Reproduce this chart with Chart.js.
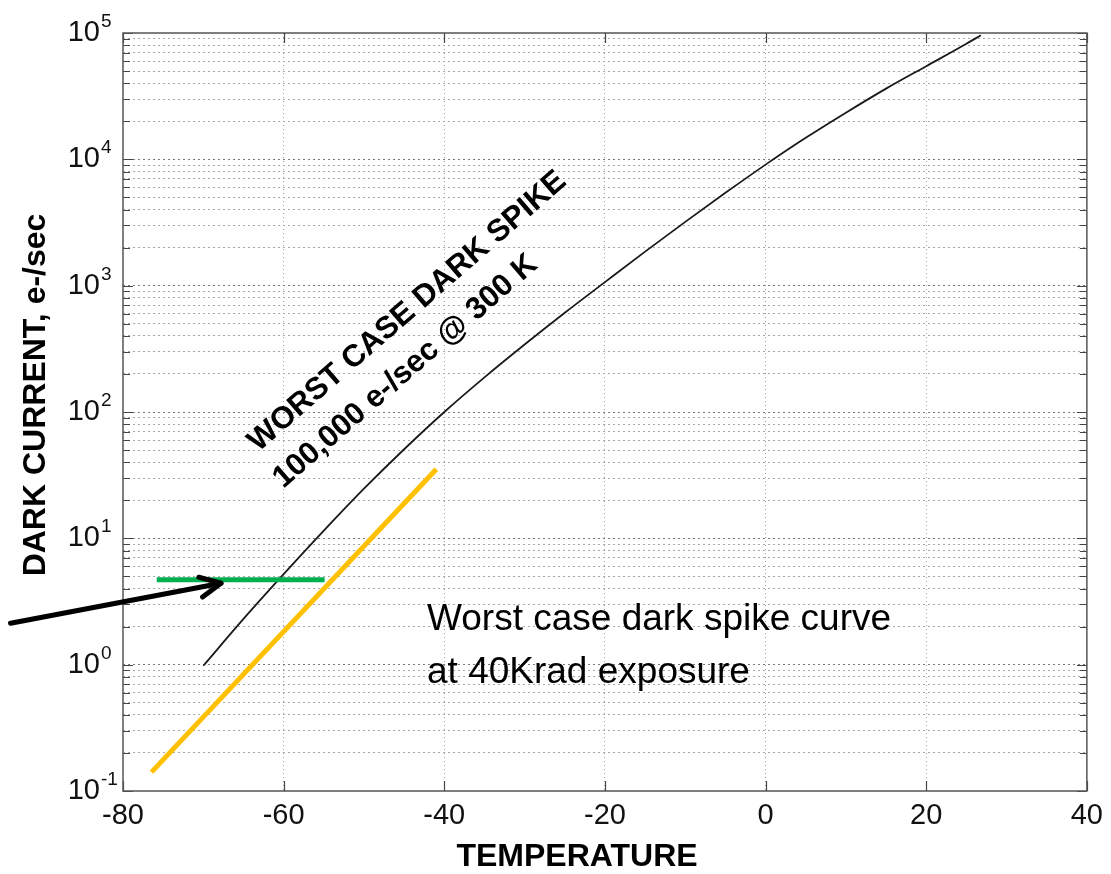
<!DOCTYPE html>
<html><head><meta charset="utf-8">
<script src="https://cdn.jsdelivr.net/npm/chart.js@4.4.1/dist/chart.umd.min.js"></script>
<style>html,body{margin:0;padding:0;background:#fff;} #wrap{width:1111px;height:874px;}</style>
</head><body><div id="wrap"><canvas id="c" width="1111" height="874"></canvas></div>
<script>
// ---- data ----
const tempC       = [-70, -65, -60, -55, -50, -45, -40, -35, -30, -25, -20, -15, -10, -5, 0, 5, 10, 15, 20, 25, 26.8];
const darkCurrent = [0.98, 2.3, 5.2, 11.5, 24.7, 50.7, 100, 188, 342, 610, 1067, 1860, 3200, 5430, 9080, 14800, 23400, 36300, 54600, 82200, 95900];
const radTemp     = [-76.45, -41.0];
const radCurrent  = [0.141, 35.2];
const markTemp    = [-75.8, -54.9];
const markCurrent = [4.7, 4.7];
const arrowTemp    = [-94.0, -67.8];
const arrowCurrent = [2.13, 4.41];
const xTicks      = [-80, -60, -40, -20, 0, 20, 40];
const xTickLabels = ['-80', '-60', '-40', '-20', '0', '20', '40'];
const yDecades    = [0.1, 1, 10, 100, 1000, 10000, 100000];
const yTickBase   = '10';
const yTickExp    = ['-1', '0', '1', '2', '3', '4', '5'];
const xTitle = 'TEMPERATURE';
const yTitle = 'DARK CURRENT, e-/sec';
const noteLines  = ['Worst case dark spike curve', 'at 40Krad exposure'];
const curveLabel = ['WORST CASE DARK SPIKE', '100,000 e-/sec @ 300 K'];

const FONT = '"Liberation Sans", Arial, sans-serif';

// y tick values: 1..9 x 10^k
const yTickValues = [];
for (let k = 0; k < yDecades.length - 1; k++) {
  for (let m = 1; m <= 9; m++) yTickValues.push(+(m * yDecades[k]).toPrecision(3));
}
yTickValues.push(yDecades[yDecades.length - 1]);
const isDecade = v => yDecades.some(d => Math.abs(v - d) / d < 1e-6);

const toPts = (xs, ys) => xs.map((x, i) => ({x: x, y: ys[i]}));

const decorPlugin = {
  id: 'decor',
  afterDraw(chart) {
    const ctx = chart.ctx, a = chart.chartArea;
    const xs = chart.scales.x, ys = chart.scales.y;
    ctx.save();
    // inward ticks
    ctx.strokeStyle = '#444'; ctx.lineWidth = 1.2;
    ctx.beginPath();
    yTickValues.forEach(v => {
      const p = Math.round(ys.getPixelForValue(v)) + 0.5;
      const L = isDecade(v) ? 10 : 7;
      ctx.moveTo(a.left, p); ctx.lineTo(a.left + L, p);
      ctx.moveTo(a.right, p); ctx.lineTo(a.right - L, p);
    });
    xTicks.forEach(v => {
      const p = Math.round(xs.getPixelForValue(v)) + 0.5;
      ctx.moveTo(p, a.bottom); ctx.lineTo(p, a.bottom - 10);
      ctx.moveTo(p, a.top); ctx.lineTo(p, a.top + 10);
    });
    ctx.stroke();
    // frame
    ctx.strokeStyle = '#555'; ctx.lineWidth = 1.5;
    ctx.strokeRect(a.left, a.top, a.right - a.left, a.bottom - a.top);

    // y tick labels with superscript exponents, placed by the y scale
    ctx.fillStyle = '#111';
    yDecades.forEach((d, i) => {
      const p = ys.getPixelForValue(d);
      ctx.font = '29px ' + FONT; ctx.textAlign = 'right'; ctx.textBaseline = 'middle';
      ctx.fillText(yTickBase, 100, p);
      ctx.font = '19px ' + FONT; ctx.textAlign = 'left'; ctx.textBaseline = 'alphabetic';
      ctx.fillText(yTickExp[i], 101, p - 6);
    });

    // arrow
    const tx = xs.getPixelForValue(arrowTemp[0]), ty = ys.getPixelForValue(arrowCurrent[0]);
    const hx = xs.getPixelForValue(arrowTemp[1]), hy = ys.getPixelForValue(arrowCurrent[1]);
    const ang = Math.atan2(hy - ty, hx - tx);
    ctx.strokeStyle = '#000'; ctx.lineWidth = 5; ctx.lineCap = 'round'; ctx.lineJoin = 'round';
    ctx.beginPath(); ctx.moveTo(tx, ty); ctx.lineTo(hx, hy); ctx.stroke();
    const wl = 23, wa = 26 * Math.PI / 180;
    ctx.beginPath();
    ctx.moveTo(hx - wl * Math.cos(ang - wa), hy - wl * Math.sin(ang - wa));
    ctx.lineTo(hx, hy);
    ctx.lineTo(hx - wl * Math.cos(ang + wa), hy - wl * Math.sin(ang + wa));
    ctx.stroke();

    // texts
    ctx.fillStyle = '#000';
    ctx.font = '37px ' + FONT;
    ctx.textAlign = 'left'; ctx.textBaseline = 'alphabetic';
    ctx.fillText(noteLines[0], 427, 630);
    ctx.fillText(noteLines[1], 427, 683);

    const rot = -41 * Math.PI / 180;
    ctx.font = 'bold 31px ' + FONT;
    ctx.textAlign = 'center';
    [[curveLabel[0], 413, 318], [curveLabel[1], 411, 378]].forEach(([t, x, y]) => {
      ctx.save(); ctx.translate(x, y); ctx.rotate(rot); ctx.fillText(t, 0, 0); ctx.restore();
    });

    // axis titles
    ctx.font = 'bold 32px ' + FONT;
    ctx.textAlign = 'center'; ctx.textBaseline = 'middle';
    ctx.fillText(xTitle, 577, 857);
    ctx.save(); ctx.translate(36, 395); ctx.rotate(-Math.PI / 2); ctx.fillText(yTitle, 0, 0); ctx.restore();
    ctx.restore();
  }
};

new Chart(document.getElementById('c'), {
  type: 'scatter',
  data: {
    datasets: [
      { data: toPts(tempC, darkCurrent), showLine: true, borderColor: '#1a1a1a', borderWidth: 1.8,
        pointRadius: 0, cubicInterpolationMode: 'monotone', order: 3 },
      { data: toPts(radTemp, radCurrent), showLine: true, borderColor: '#FFC000', borderWidth: 5,
        pointRadius: 0, order: 2 },
      { data: toPts(markTemp, markCurrent), showLine: true, borderColor: '#00B050', borderWidth: 5,
        pointRadius: 0, order: 1 }
    ]
  },
  options: {
    responsive: false, animation: false, devicePixelRatio: 1,
    layout: { padding: { left: 0, right: 18, top: 33, bottom: 0 } },
    plugins: { legend: { display: false }, tooltip: { enabled: false } },
    scales: {
      x: {
        type: 'linear', min: -80, max: 40,
        afterBuildTicks: s => { s.ticks = xTicks.map(v => ({ value: v })); },
        afterFit: s => { s.height = 83; },
        ticks: { autoSkip: false, maxRotation: 0, color: '#111', padding: 8,
          font: { family: FONT, size: 29 },
          callback: v => { const i = xTicks.indexOf(v); return i >= 0 ? xTickLabels[i] : ''; } },
        grid: { drawTicks: false, lineWidth: 1,
          color: ctx => (ctx.tick && (ctx.tick.value === -80 || ctx.tick.value === 40)) ? 'rgba(0,0,0,0)' : '#a0a0a0' },
        border: { display: false, dash: [1, 3] }
      },
      y: {
        type: 'logarithmic', min: 0.1, max: 100000,
        afterBuildTicks: s => { s.ticks = yTickValues.map(v => ({ value: v })); },
        afterFit: s => { s.width = 123; },
        ticks: { display: false, autoSkip: false },
        grid: { drawTicks: false, lineWidth: 1,
          color: ctx => { const v = ctx.tick ? ctx.tick.value : 0; if (v === 0.1 || v === 100000) return 'rgba(0,0,0,0)'; return isDecade(v) ? '#7a7a7a' : '#a8a8a8'; } },
        border: { display: false, dash: [2, 3] }
      }
    }
  },
  plugins: [decorPlugin]
});
</script>
</body></html>
